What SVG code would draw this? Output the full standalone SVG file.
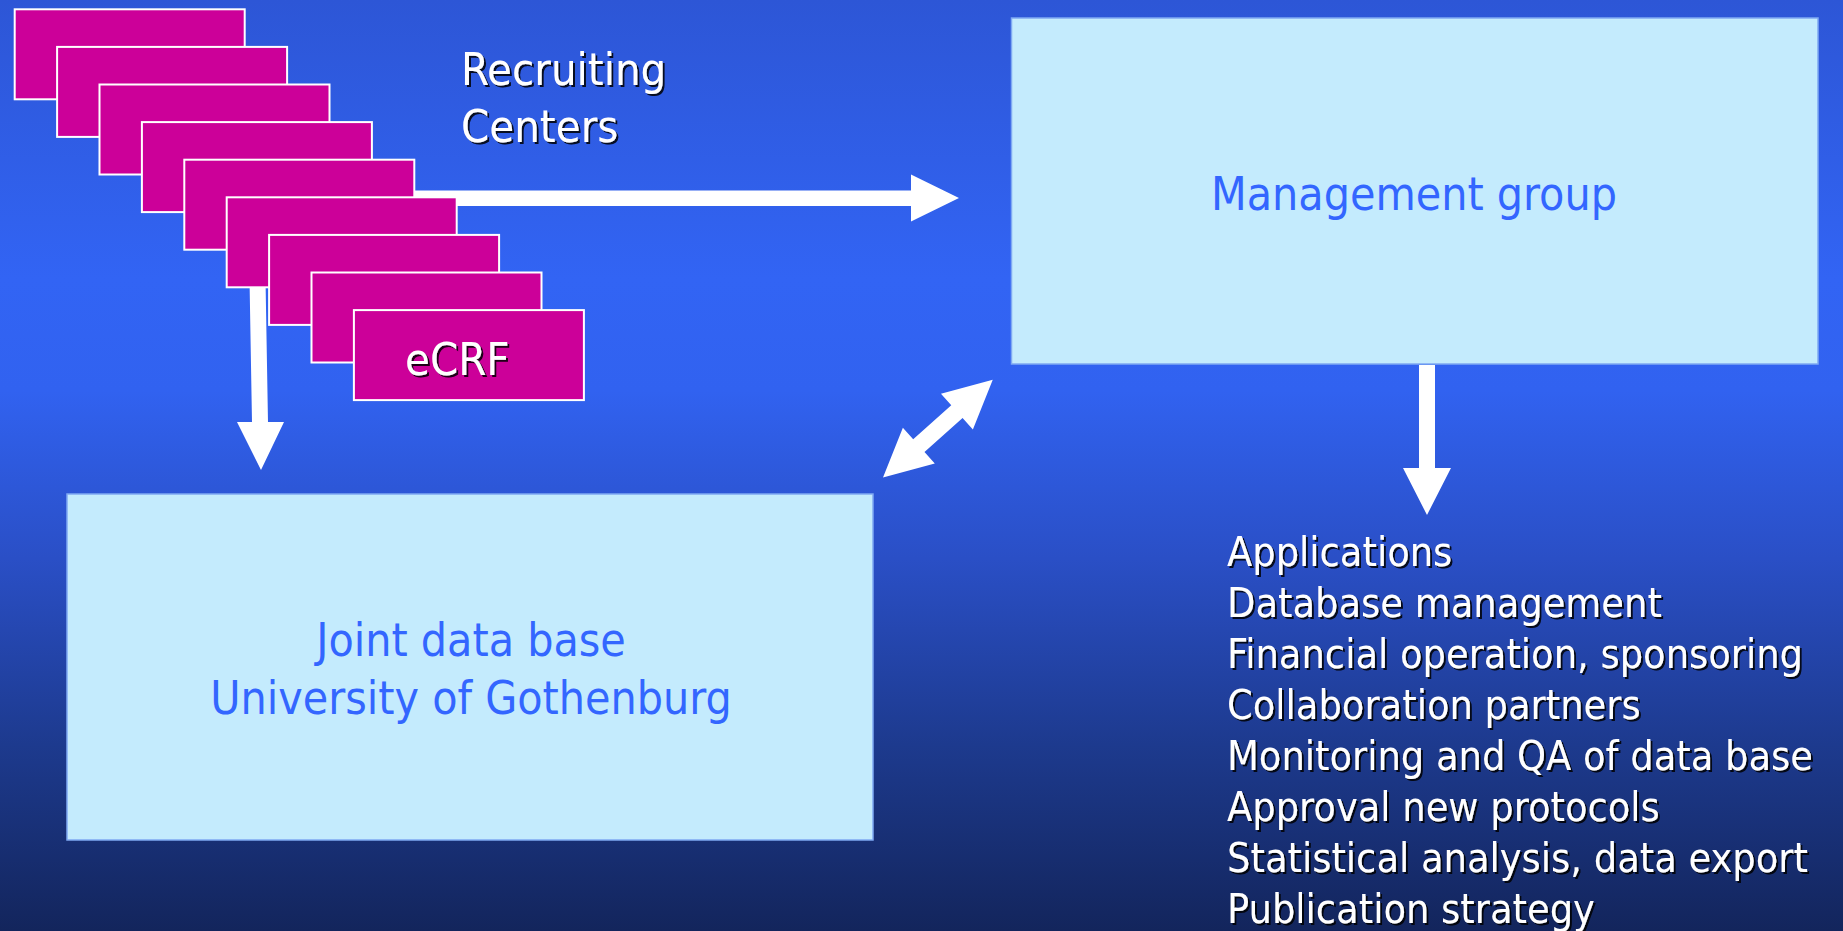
<svg xmlns="http://www.w3.org/2000/svg" width="1843" height="931" viewBox="0 0 1843 931">
<defs>
<linearGradient id="bg" x1="0" y1="0" x2="0" y2="1">
<stop offset="0" stop-color="#2D56D6"/>
<stop offset="0.3" stop-color="#3264F4"/>
<stop offset="0.42" stop-color="#3162F0"/>
<stop offset="0.6" stop-color="#2A4FC6"/>
<stop offset="0.8" stop-color="#1D3A8E"/>
<stop offset="1" stop-color="#13255C"/>
</linearGradient>
<filter id="sh" x="-10%" y="-20%" width="130%" height="150%">
<feDropShadow dx="2" dy="2" stdDeviation="0.6" flood-color="#000" flood-opacity="0.85"/>
</filter>
</defs>
<style>
.card{fill:#CC0099;stroke:#fff;stroke-width:2}
.box{fill:#C4EBFD;stroke:#7FA9F2;stroke-width:1.5}
.wt{fill:#fff;font-family:"DejaVu Sans Condensed","DejaVu Sans",sans-serif;font-stretch:condensed;filter:url(#sh)}
.bt{fill:#3366FF;font-family:"DejaVu Sans Condensed","DejaVu Sans",sans-serif;font-stretch:condensed;font-size:46px;text-anchor:middle}
.arr{fill:#fff}
</style>
<rect width="1843" height="931" fill="url(#bg)"/>
<g id="connectors">
<polygon class="arr" points="300,190.5 911,190.5 911,174.5 959,198 911,221.5 911,206 300,206"/>
<polygon class="arr" points="249,250 265,250 268,422 284,422 261,470 237,422 252,422"/>
<polygon class="arr" points="1419,365 1435,365 1435,468 1451,468 1427,515 1403,468 1419,468"/>
<polygon class="arr" transform="translate(883,477.5) rotate(-41.7)" points="0,0 48,-24 48,-8.5 99,-8.5 99,-24 147,0 99,24 99,8.5 48,8.5 48,24"/>
</g>
<g id="recruiting-centers">
<rect class="card" x="14.7" y="9.3" width="230" height="90"/>
<rect class="card" x="57.1" y="46.9" width="230" height="90"/>
<rect class="card" x="99.5" y="84.5" width="230" height="90"/>
<rect class="card" x="141.9" y="122.1" width="230" height="90"/>
<rect class="card" x="184.3" y="159.7" width="230" height="90"/>
<rect class="card" x="226.7" y="197.3" width="230" height="90"/>
<rect class="card" x="269.1" y="234.9" width="230" height="90"/>
<rect class="card" x="311.5" y="272.5" width="230" height="90"/>
<rect class="card" x="353.9" y="310.1" width="230" height="90"/>
<text class="wt" x="405" y="375" font-size="45">eCRF</text>
<text class="wt" x="461" y="85" font-size="45">Recruiting</text>
<text class="wt" x="461" y="141.5" font-size="45">Centers</text>
</g>
<g id="management-group">
<rect class="box" x="1011.5" y="18" width="806.5" height="346"/>
<text class="bt" x="1414" y="210">Management group</text>
</g>
<g id="joint-database">
<rect class="box" x="67" y="494" width="806" height="346"/>
<text class="bt" x="471" y="656">Joint data base</text>
<text class="bt" x="471" y="714">University of Gothenburg</text>
</g>
<g id="tasks">
<text class="wt" font-size="41" x="1227">
<tspan x="1227" y="565.5">Applications</tspan>
<tspan x="1227" y="616.6">Database management</tspan>
<tspan x="1227" y="667.6">Financial operation, sponsoring</tspan>
<tspan x="1227" y="718.7">Collaboration partners</tspan>
<tspan x="1227" y="769.7">Monitoring and QA of data base</tspan>
<tspan x="1227" y="820.8">Approval new protocols</tspan>
<tspan x="1227" y="871.9">Statistical analysis, data export</tspan>
<tspan x="1227" y="922.9">Publication strategy</tspan>
</text>
</g>
</svg>
